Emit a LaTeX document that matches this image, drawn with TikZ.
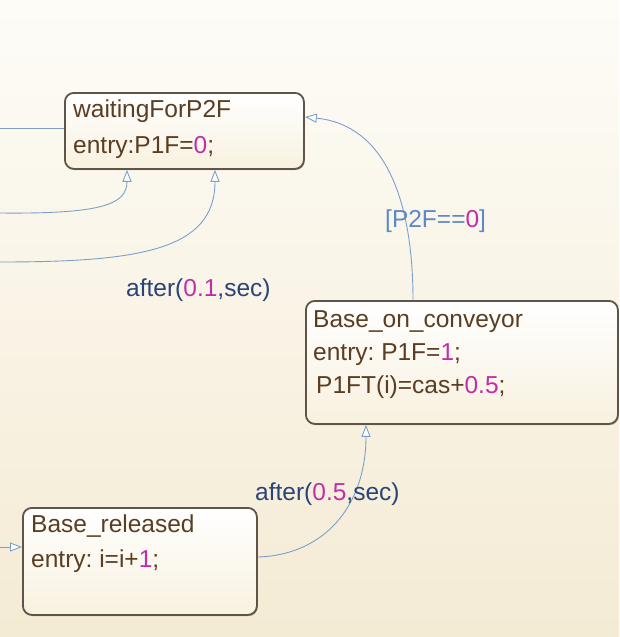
\documentclass[tikz,border=0pt]{standalone}
\usepackage{fontspec}
\setmainfont{Liberation Sans}
\usetikzlibrary{arrows.meta,shadows}
\frenchspacing
\definecolor{txt}{HTML}{5B3E22}
\definecolor{mag}{HTML}{C02FA8}
\definecolor{navy}{HTML}{2A4478}
\definecolor{steel}{HTML}{5B8AC6}
\definecolor{conn}{HTML}{7E9FCB}
\definecolor{boxc}{HTML}{5F5448}
\definecolor{boxbot}{HTML}{F8F1DF}
\definecolor{bgtop}{HTML}{FDFCF7}
\definecolor{bgbot}{HTML}{F4EBD4}
\begin{document}
\begin{tikzpicture}[x=1pt,y=1pt,
  state/.style={draw=boxc, line width=1.8pt, rounded corners=9pt, top color=white, bottom color=boxbot,
    drop shadow={shadow xshift=0.8pt, shadow yshift=-1.2pt, fill=black, opacity=0.3},
    anchor=north west, inner sep=0pt},
  stxt/.style={anchor=base west, inner sep=0pt, font=\fontsize{24.5}{29}\selectfont, text=txt},
  lbl/.style={anchor=base west, inner sep=0pt, font=\fontsize{24.5}{29}\selectfont, text=navy},
  link/.style={draw=conn, line width=0.9pt},
  tr/.style={link, -{Triangle[open, length=12pt, width=9pt, fill=white]}},
]
\shade[top color=bgtop, bottom color=bgbot] (0,0) rectangle (619,-637);
\useasboundingbox (0,0) rectangle (619,-637);

% states
\node[state, minimum width=239pt, minimum height=76pt] (wait) at (64,-92) {};
\node[state, minimum width=312pt, minimum height=123pt] (conv) at (305,-300) {};
\node[state, minimum width=234pt, minimum height=107pt] (rel) at (22,-507) {};

% state texts
\node[stxt] (w1) at (73,-117) {waitingForP2F};
\node[stxt] (w2) at (73,-153) {entry:P1F=\textcolor{mag}{0};};
\node[stxt] (b1) at (313,-327) {Base\_on\_conveyor};
\node[stxt] (b2) at (313,-360) {entry: P1F=\textcolor{mag}{1};};
\node[stxt] (b3) at (316,-393) {P1FT(i)=cas+\textcolor{mag}{0.5};};
\node[stxt] (r1) at (31,-532) {Base\_released};
\node[stxt] (r2) at (31,-567) {entry: i=i+\textcolor{mag}{1};};

% connectors
\coordinate (s1) at (0,-128);
\draw[link] (s1) -- (s1 -| wait.west);
\coordinate (s2) at (0,-213);
\draw[tr] (s2) .. controls (100,-214) and (127,-205) .. ([xshift=63pt]wait.south west);
\coordinate (s3) at (0,-262);
\draw[tr] (s3) .. controls (140,-262) and (215,-250) .. ([xshift=151pt]wait.south west);
\draw[tr] ([xshift=108pt]conv.north west) .. controls (413,-200) and (385,-125) .. ([yshift=-25pt]wait.north east);
\draw[tr] ([yshift=-50pt]rel.north east) .. controls (325,-555) and (366,-505) .. ([xshift=61pt]conv.south west);
\coordinate (s4) at (0,-547);
\draw[tr] (s4) -- ([yshift=-40pt]rel.north west);

% transition labels
\node[lbl] (l1) at (126,-296) {after(\textcolor{mag}{0.1},sec)};
\node[lbl, text=steel] (l2) at (385,-227) {[P2F==\textcolor{mag}{0}]};
\node[lbl] (l3) at (255,-500) {after(\textcolor{mag}{0.5},sec)};
\end{tikzpicture}
\end{document}
